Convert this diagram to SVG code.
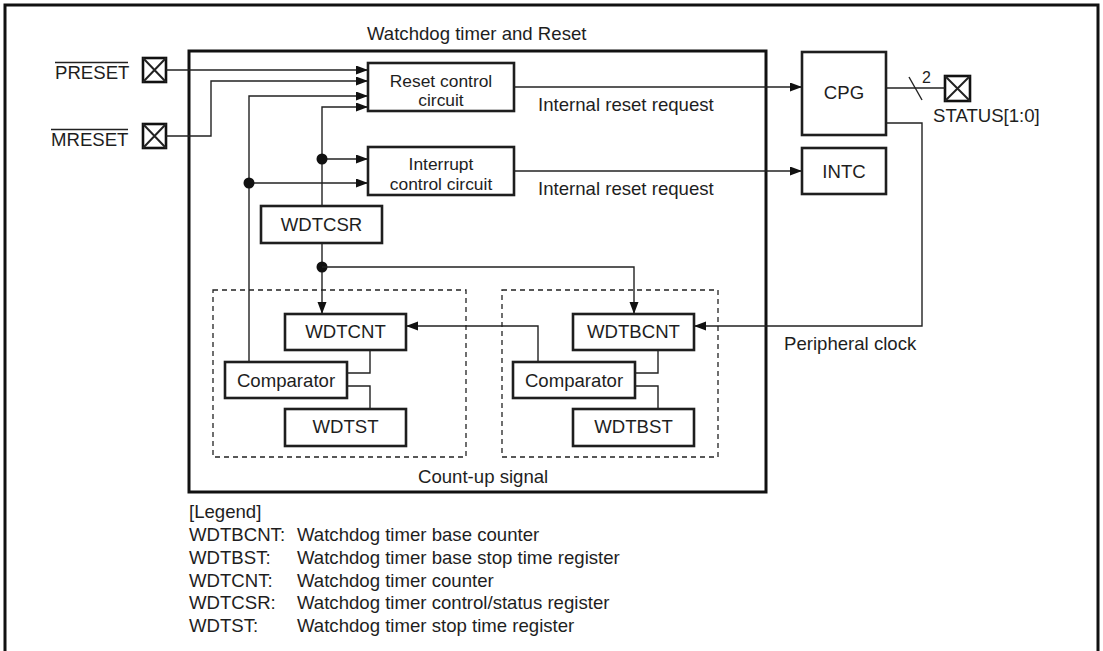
<svg xmlns="http://www.w3.org/2000/svg" width="1103" height="651" viewBox="0 0 1103 651">
<defs>
<style>
text{font-family:"Liberation Sans",Arial,sans-serif;font-size:18.6px;fill:#1e1e1e}
.m{text-anchor:middle}
.two{font-size:17.4px}
.box{fill:#fff;stroke:#1e1e1e;stroke-width:2.6}
.frame{fill:none;stroke:#111;stroke-width:3}
.dash{fill:none;stroke:#222;stroke-width:1.3;stroke-dasharray:5 4}
.w{fill:none;stroke:#222;stroke-width:1.4}
.arr{fill:none;stroke:#222;stroke-width:1.4;marker-end:url(#ah)}
.dot{fill:#111}
.pin{fill:#fff;stroke:#111;stroke-width:2.6}
.ol{stroke:#222;stroke-width:1.3}
</style>
<marker id="ah" markerUnits="userSpaceOnUse" markerWidth="13" markerHeight="10" refX="12" refY="4.5" orient="auto">
<path d="M0,0 L12,4.5 L0,9 Z" fill="#111"/>
</marker>
</defs>
<rect width="1103" height="651" fill="#fff"/>
<path class="frame" d="M5,660 V5 H1098 V660"/>

<g id="main">
<rect class="frame" x="189" y="51" width="577" height="441"/>
<text x="367" y="40">Watchdog timer and Reset</text>
<rect class="dash" x="213" y="290" width="253" height="167"/>
<rect class="dash" x="502" y="290" width="216" height="167"/>
<text x="418" y="483">Count-up signal</text>
</g>

<g id="preset">
<text x="55" y="79">PRESET</text>
<line class="ol" x1="55" y1="62.5" x2="128" y2="62.5"/>
<rect class="pin" x="143" y="58" width="23" height="24"/>
<path class="w" d="M143,58 L166,82 M166,58 L143,82" style="stroke-width:2"/>
</g>
<g id="mreset">
<text x="51" y="146">MRESET</text>
<line class="ol" x1="51" y1="129.5" x2="128" y2="129.5"/>
<rect class="pin" x="143" y="124" width="23" height="24"/>
<path class="w" d="M143,124 L166,148 M166,124 L143,148" style="stroke-width:2"/>
</g>

<g id="reset-control">
<rect class="box" x="368" y="63" width="146" height="48"/>
<text class="m two" x="441" y="86.5">Reset control</text>
<text class="m two" x="441" y="106">circuit</text>
</g>
<g id="interrupt-control">
<rect class="box" x="368" y="147" width="146" height="48"/>
<text class="m two" x="441" y="170">Interrupt</text>
<text class="m two" x="441" y="189.5">control circuit</text>
</g>
<g id="cpg">
<rect class="box" x="802" y="52" width="84" height="83"/>
<text class="m" x="844" y="99">CPG</text>
</g>
<g id="intc">
<rect class="box" x="802" y="148" width="84" height="46"/>
<text class="m" x="844" y="178">INTC</text>
</g>
<g id="status">
<rect class="pin" x="945" y="76" width="25" height="25"/>
<path class="w" d="M945,76 L970,101 M970,76 L945,101" style="stroke-width:2"/>
<text x="933" y="122">STATUS[1:0]</text>
</g>
<g id="wdtcsr">
<rect class="box" x="261" y="206" width="121" height="37"/>
<text class="m" x="321.5" y="231">WDTCSR</text>
</g>
<g id="wdtcnt">
<rect class="box" x="285" y="314" width="121" height="36"/>
<text class="m" x="345.5" y="338">WDTCNT</text>
</g>
<g id="comparator1">
<rect class="box" x="225" y="362" width="122" height="36"/>
<text class="m" x="286" y="387">Comparator</text>
</g>
<g id="wdtst">
<rect class="box" x="285" y="409" width="121" height="37"/>
<text class="m" x="345.5" y="433">WDTST</text>
</g>
<g id="wdtbcnt">
<rect class="box" x="573" y="314" width="121" height="36"/>
<text class="m" x="633.5" y="338">WDTBCNT</text>
</g>
<g id="comparator2">
<rect class="box" x="513" y="362" width="122" height="36"/>
<text class="m" x="574" y="387">Comparator</text>
</g>
<g id="wdtbst">
<rect class="box" x="573" y="409" width="121" height="37"/>
<text class="m" x="633.5" y="433">WDTBST</text>
</g>

<g id="connectors">
<path class="arr" d="M166,70 H368"/>
<path class="arr" d="M166,136 H211 V81 H368"/>
<path class="arr" d="M249,362 V96 H368"/>
<path class="arr" d="M322,206 V107 H368"/>
<path class="arr" d="M322,159 H368"/>
<path class="arr" d="M249,183 H368"/>
<circle class="dot" cx="322" cy="159" r="5.5"/>
<circle class="dot" cx="249" cy="183" r="5.5"/>
<path class="arr" d="M514,87 H802"/>
<path class="arr" d="M514,171 H802"/>
<path class="w" d="M886,88 H945"/>
<path class="w" d="M909,77 L922,100"/>
<text x="922" y="83" style="font-size:16px">2</text>
<path class="arr" d="M886,123 H922 V326 H694"/>
<path class="arr" d="M322,243 V314"/>
<circle class="dot" cx="322" cy="267" r="5.5"/>
<path class="arr" d="M322,267 H634 V314"/>
<path class="arr" d="M538,362 V326 H406"/>
<path class="w" d="M370,350 V373 H347"/>
<path class="w" d="M347,386 H370 V409"/>
<path class="w" d="M658,350 V373 H635"/>
<path class="w" d="M635,386 H658 V409"/>
<text x="538" y="111">Internal reset request</text>
<text x="538" y="195">Internal reset request</text>
<text x="784" y="350">Peripheral clock</text>
</g>

<g id="legend">
<text x="189" y="518">[Legend]</text>
<text x="189" y="541">WDTBCNT:</text><text x="297" y="541">Watchdog timer base counter</text>
<text x="189" y="564">WDTBST:</text><text x="297" y="564">Watchdog timer base stop time register</text>
<text x="189" y="587">WDTCNT:</text><text x="297" y="587">Watchdog timer counter</text>
<text x="189" y="609">WDTCSR:</text><text x="297" y="609">Watchdog timer control/status register</text>
<text x="189" y="632">WDTST:</text><text x="297" y="632">Watchdog timer stop time register</text>
</g>
</svg>
